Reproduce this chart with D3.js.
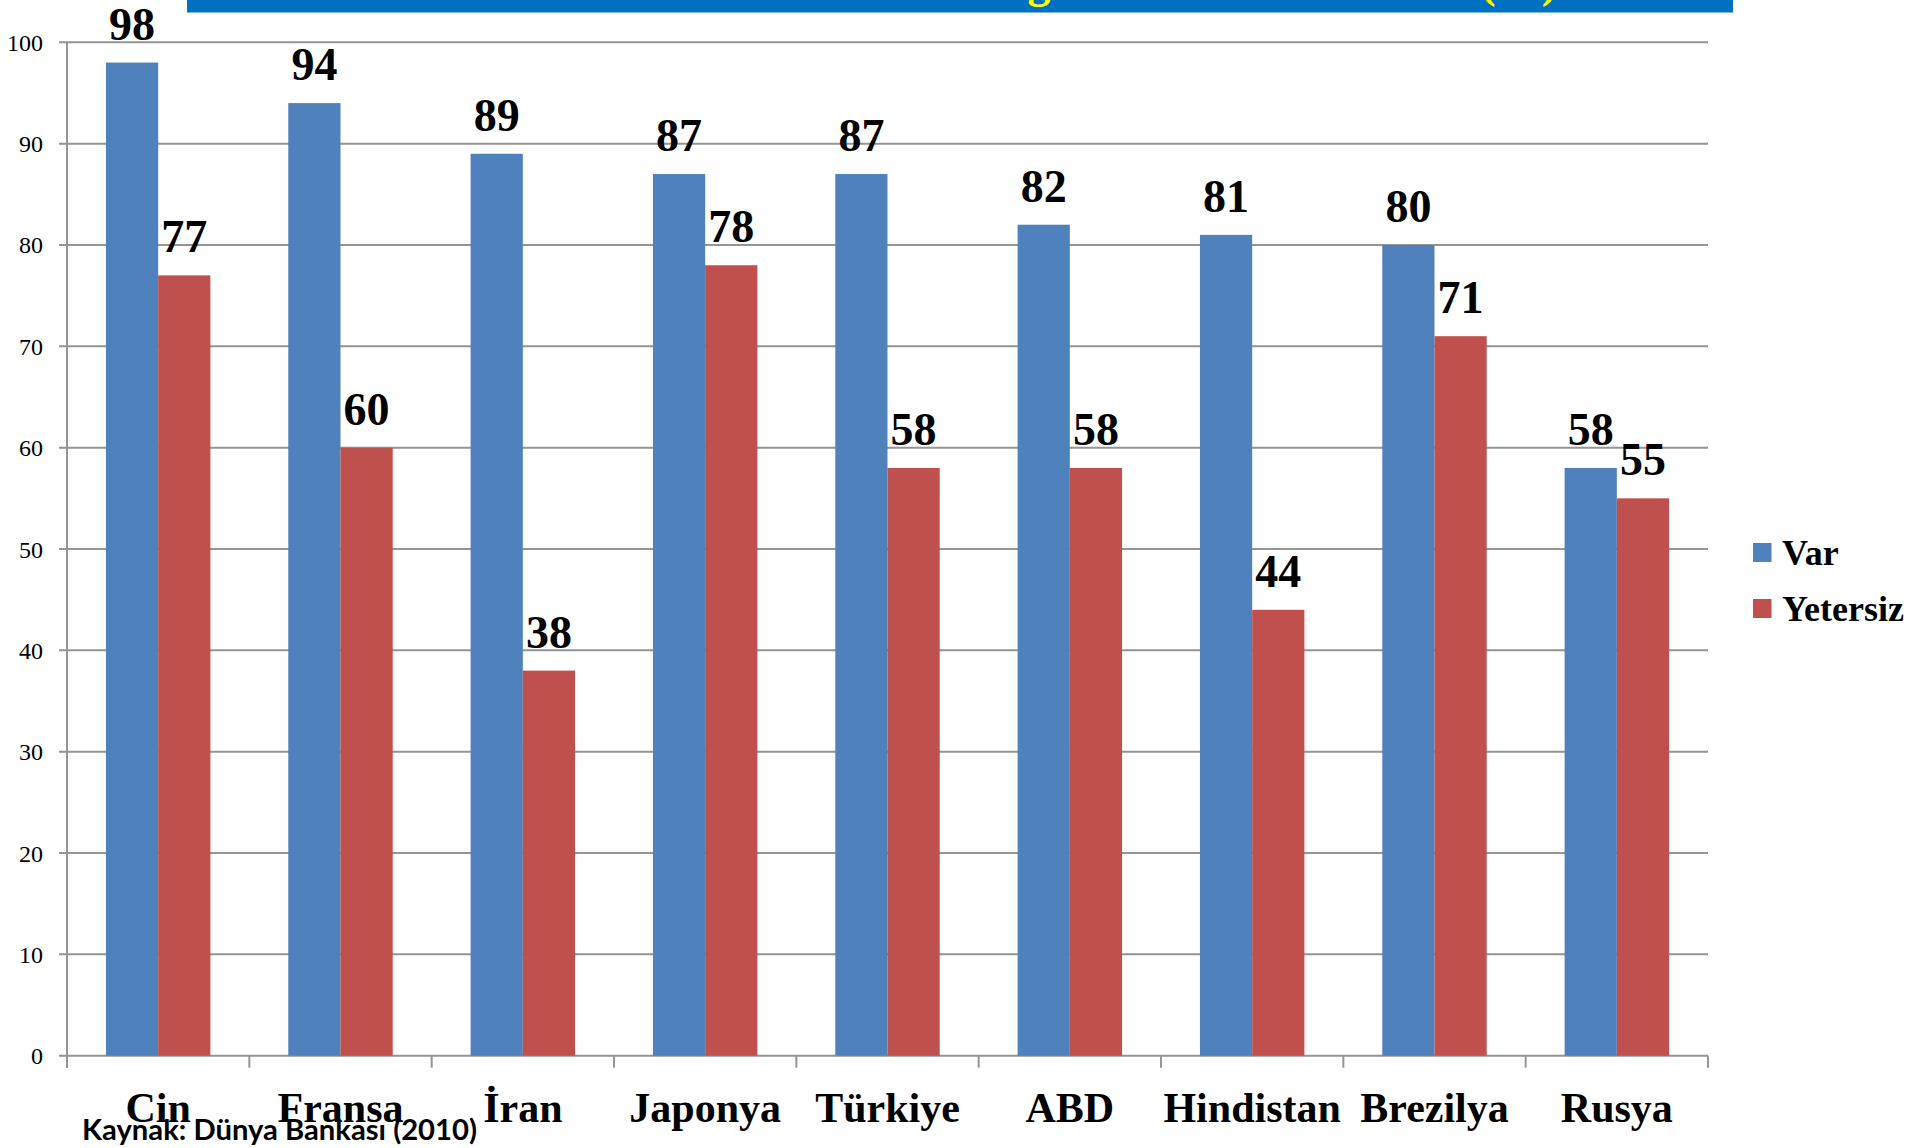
<!DOCTYPE html>
<html>
<head>
<meta charset="utf-8">
<script src="https://cdn.jsdelivr.net/npm/d3@7"></script>
<style>
  html, body { margin: 0; padding: 0; background: #fff; overflow: hidden; }
  svg { display: block; }
</style>
</head>
<body>
<svg id="chart" width="1915" height="1148"></svg>
<script>
const categories = ["Cin", "Fransa", "İran", "Japonya", "Türkiye", "ABD", "Hindistan", "Brezilya", "Rusya"];
const seriesNames = ["Var", "Yetersiz"];
const varValues = [98, 94, 89, 87, 87, 82, 81, 80, 58];
const yetersizValues = [77, 60, 38, 78, 58, 58, 44, 71, 55];
const yTicks = [0, 10, 20, 30, 40, 50, 60, 70, 80, 90, 100];
const colors = ["#4F81BD", "#C0504D"];
const titleText = "İnternet Bağlantısı Olan Firmalar (%)";
const sourceText = "Kaynak: Dünya Bankası (2010)";

(function () {
const svg = d3.select("#chart");
const serif = "'Liberation Serif', 'Times New Roman', serif";

const mLeft = 67, mRight = 1708, mTop = 42.3, mBottom = 1055.7;

const x0 = d3.scaleBand().domain(categories).range([mLeft, mRight]).paddingInner(0).paddingOuter(0);
const x1 = d3.scaleBand().domain(seriesNames).range([0, x0.bandwidth()]).paddingInner(0).paddingOuter(0.746);
const y = d3.scaleLinear().domain([0, 100]).range([mBottom, mTop]);

const gridColor = "#959595";

// Title banner
svg.append("rect").attr("x", 187).attr("y", 0).attr("width", 1546).attr("height", 12.5).attr("fill", "#0070C0");
svg.append("text").attr("x", 1557).attr("y", -3).attr("text-anchor", "end")
  .attr("font-family", serif).attr("font-weight", "bold").attr("font-size", 46)
  .attr("fill", "#FFFF00").text(titleText);

// Gridlines
svg.append("g").selectAll("line").data(yTicks).join("line")
  .attr("x1", mLeft - 8).attr("x2", mRight)
  .attr("y1", d => y(d)).attr("y2", d => y(d))
  .attr("stroke", gridColor).attr("stroke-width", 2);

// Y axis line
svg.append("line").attr("x1", mLeft).attr("x2", mLeft).attr("y1", mTop).attr("y2", mBottom + 12)
  .attr("stroke", gridColor).attr("stroke-width", 2);

// Y tick labels
svg.append("g").selectAll("text").data(yTicks).join("text")
  .attr("x", 43).attr("y", d => y(d) + 8.5).attr("text-anchor", "end")
  .attr("font-family", serif).attr("font-size", 24).attr("fill", "#000")
  .text(d => d);

// X axis category ticks
const xTickPos = categories.map(c => x0(c)).concat([mRight]);
svg.append("g").selectAll("line").data(xTickPos).join("line")
  .attr("x1", d => d).attr("x2", d => d).attr("y1", mBottom).attr("y2", mBottom + 12)
  .attr("stroke", gridColor).attr("stroke-width", 2);

// Bars
const rows = categories.map((c, i) => ({ cat: c, vals: [varValues[i], yetersizValues[i]] }));
const groups = svg.append("g").selectAll("g").data(rows).join("g")
  .attr("transform", d => `translate(${x0(d.cat)},0)`);

groups.selectAll("rect").data(d => d.vals.map((v, j) => ({ s: seriesNames[j], v, j }))).join("rect")
  .attr("x", d => x1(d.s)).attr("width", x1.bandwidth())
  .attr("y", d => y(d.v)).attr("height", d => y(0) - y(d.v))
  .attr("fill", d => colors[d.j]);

// Data labels
groups.selectAll("text").data(d => d.vals.map((v, j) => ({ s: seriesNames[j], v, j }))).join("text")
  .attr("x", d => x1(d.s) + x1.bandwidth() / 2).attr("y", d => y(d.v) - 23)
  .attr("text-anchor", "middle")
  .attr("font-family", serif).attr("font-weight", "bold").attr("font-size", 46).attr("fill", "#000")
  .text(d => d.v);

// Category labels
svg.append("g").selectAll("text").data(categories).join("text")
  .attr("x", d => x0(d) + x0.bandwidth() / 2).attr("y", 1122)
  .attr("text-anchor", "middle")
  .attr("font-family", serif).attr("font-weight", "bold").attr("font-size", 42).attr("fill", "#000")
  .text(d => d);

// Legend
const legend = svg.append("g").selectAll("g").data(seriesNames).join("g")
  .attr("transform", (d, i) => `translate(1753, ${543 + i * 56})`);
legend.append("rect").attr("width", 18.5).attr("height", 19).attr("fill", (d, i) => colors[i]);
legend.append("text").attr("x", 29).attr("y", 22)
  .attr("font-family", serif).attr("font-weight", "bold").attr("font-size", 36).attr("fill", "#000")
  .text(d => d);

// Source
svg.append("text").attr("x", 82).attr("y", 1140)
  .attr("font-family", "Lato, 'Open Sans', sans-serif").attr("font-weight", "bold").attr("font-size", 28)
  .attr("fill", "#000").attr("textLength", 395).attr("lengthAdjust", "spacingAndGlyphs")
  .text(sourceText);
})();
</script>
</body>
</html>
